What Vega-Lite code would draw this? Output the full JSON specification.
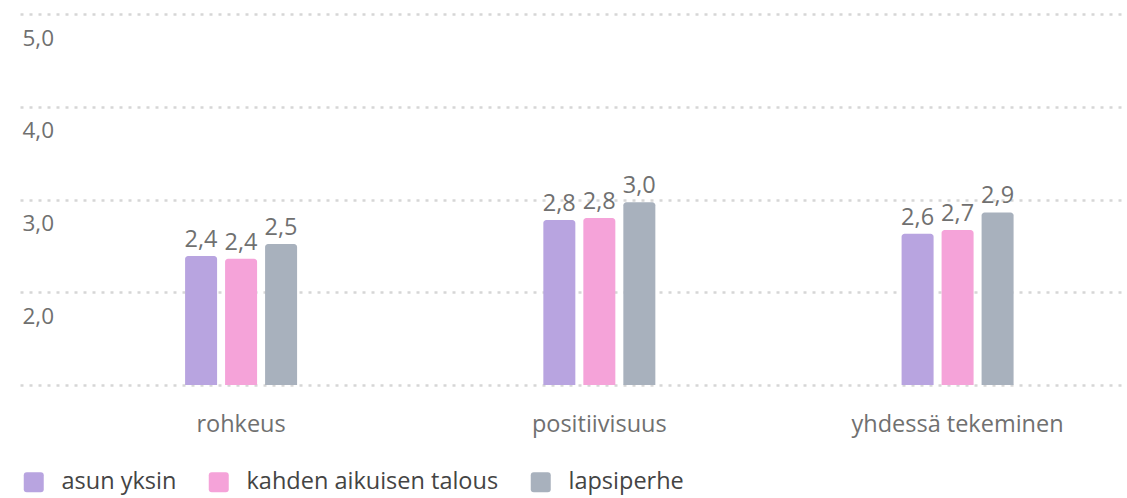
{
  "$schema": "https://vega.github.io/schema/vega-lite/v6.json",
  "width": 1107,
  "height": 371,
  "autosize": "none",
  "padding": {"left": 20, "top": 14, "right": 0, "bottom": 113},
  "config": {
    "view": {"stroke": null},
    "font": "Open Sans",
    "locale": {"number": {"decimal": ",", "thousands": " ", "grouping": [3], "currency": ["", " €"]}}
  },
  "data": {
    "values": [
      {"kategoria": "rohkeus", "ryhma": "asun yksin", "arvo": 2.39},
      {"kategoria": "rohkeus", "ryhma": "kahden aikuisen talous", "arvo": 2.36},
      {"kategoria": "rohkeus", "ryhma": "lapsiperhe", "arvo": 2.52},
      {"kategoria": "positiivisuus", "ryhma": "asun yksin", "arvo": 2.78},
      {"kategoria": "positiivisuus", "ryhma": "kahden aikuisen talous", "arvo": 2.8},
      {"kategoria": "positiivisuus", "ryhma": "lapsiperhe", "arvo": 2.97},
      {"kategoria": "yhdessä tekeminen", "ryhma": "asun yksin", "arvo": 2.63},
      {"kategoria": "yhdessä tekeminen", "ryhma": "kahden aikuisen talous", "arvo": 2.67},
      {"kategoria": "yhdessä tekeminen", "ryhma": "lapsiperhe", "arvo": 2.86}
    ]
  },
  "encoding": {
    "x": {
      "field": "kategoria",
      "type": "nominal",
      "sort": ["rohkeus", "positiivisuus", "yhdessä tekeminen"],
      "scale": {"paddingInner": 0.054, "paddingOuter": 0.072, "align": 1},
      "axis": {
        "title": null,
        "domain": false,
        "ticks": false,
        "tickSize": 0,
        "labelAngle": 0,
        "labelPadding": 46,
        "labelBaseline": "alphabetic",
        "labelFontSize": 23.5,
        "labelColor": "#707070",
        "labelLimit": 500,
        "labelFont": "Open Sans"
      }
    },
    "xOffset": {
      "field": "ryhma",
      "type": "nominal",
      "sort": ["asun yksin", "kahden aikuisen talous", "lapsiperhe"],
      "scale": {"range": [113.5, 225.5], "paddingInner": 0.2, "paddingOuter": 0}
    },
    "y": {
      "field": "arvo",
      "type": "quantitative",
      "scale": {"domain": [1, 5], "nice": false, "zero": false},
      "axis": {
        "title": null,
        "values": [1, 2, 3, 4, 5],
        "format": ".1f",
        "labelExpr": "datum.value == 1 ? '' : datum.label",
        "domain": false,
        "ticks": false,
        "tickSize": 0,
        "grid": true,
        "gridDash": [3, 6],
        "gridColor": "#d6d6d6",
        "gridWidth": 2.5,
        "labelAlign": "left",
        "labelBaseline": "alphabetic",
        "labelPadding": -2,
        "labelOffset": 31,
        "labelFontSize": 22.5,
        "labelColor": "#707070",
        "labelFlush": false,
        "labelOverlap": false,
        "labelBound": false
      }
    },
    "color": {
      "field": "ryhma",
      "type": "nominal",
      "sort": ["asun yksin", "kahden aikuisen talous", "lapsiperhe"],
      "scale": {
        "domain": ["asun yksin", "kahden aikuisen talous", "lapsiperhe"],
        "range": ["#b8a4e0", "#f5a3d9", "#a8b1bd"]
      },
      "legend": {
        "title": null,
        "orient": "none",
        "direction": "horizontal",
        "legendX": 2,
        "legendY": 456,
        "padding": 0,
        "symbolType": "M-0.7,-1L0.7,-1Q1,-1 1,-0.7L1,0.7Q1,1 0.7,1L-0.7,1Q-1,1 -1,0.7L-1,-0.7Q-1,-1 -0.7,-1Z",
        "symbolSize": 400,
        "symbolStrokeWidth": 0,
        "symbolOpacity": 1,
        "labelFontSize": 23.5,
        "labelColor": "#444444",
        "labelLimit": 500,
        "labelOffset": 16,
        "columnPadding": 30
      }
    }
  },
  "layer": [
    {
      "mark": {"type": "bar", "cornerRadiusTopLeft": 3, "cornerRadiusTopRight": 3},
      "encoding": {"y2": {"datum": 1}}
    },
    {
      "mark": {"type": "text", "baseline": "alphabetic", "dy": -9, "fontSize": 23.5, "color": "#707070"},
      "encoding": {
        "text": {"field": "arvo", "type": "quantitative", "format": ".1f"},
        "color": {"value": "#707070"}
      }
    }
  ]
}
